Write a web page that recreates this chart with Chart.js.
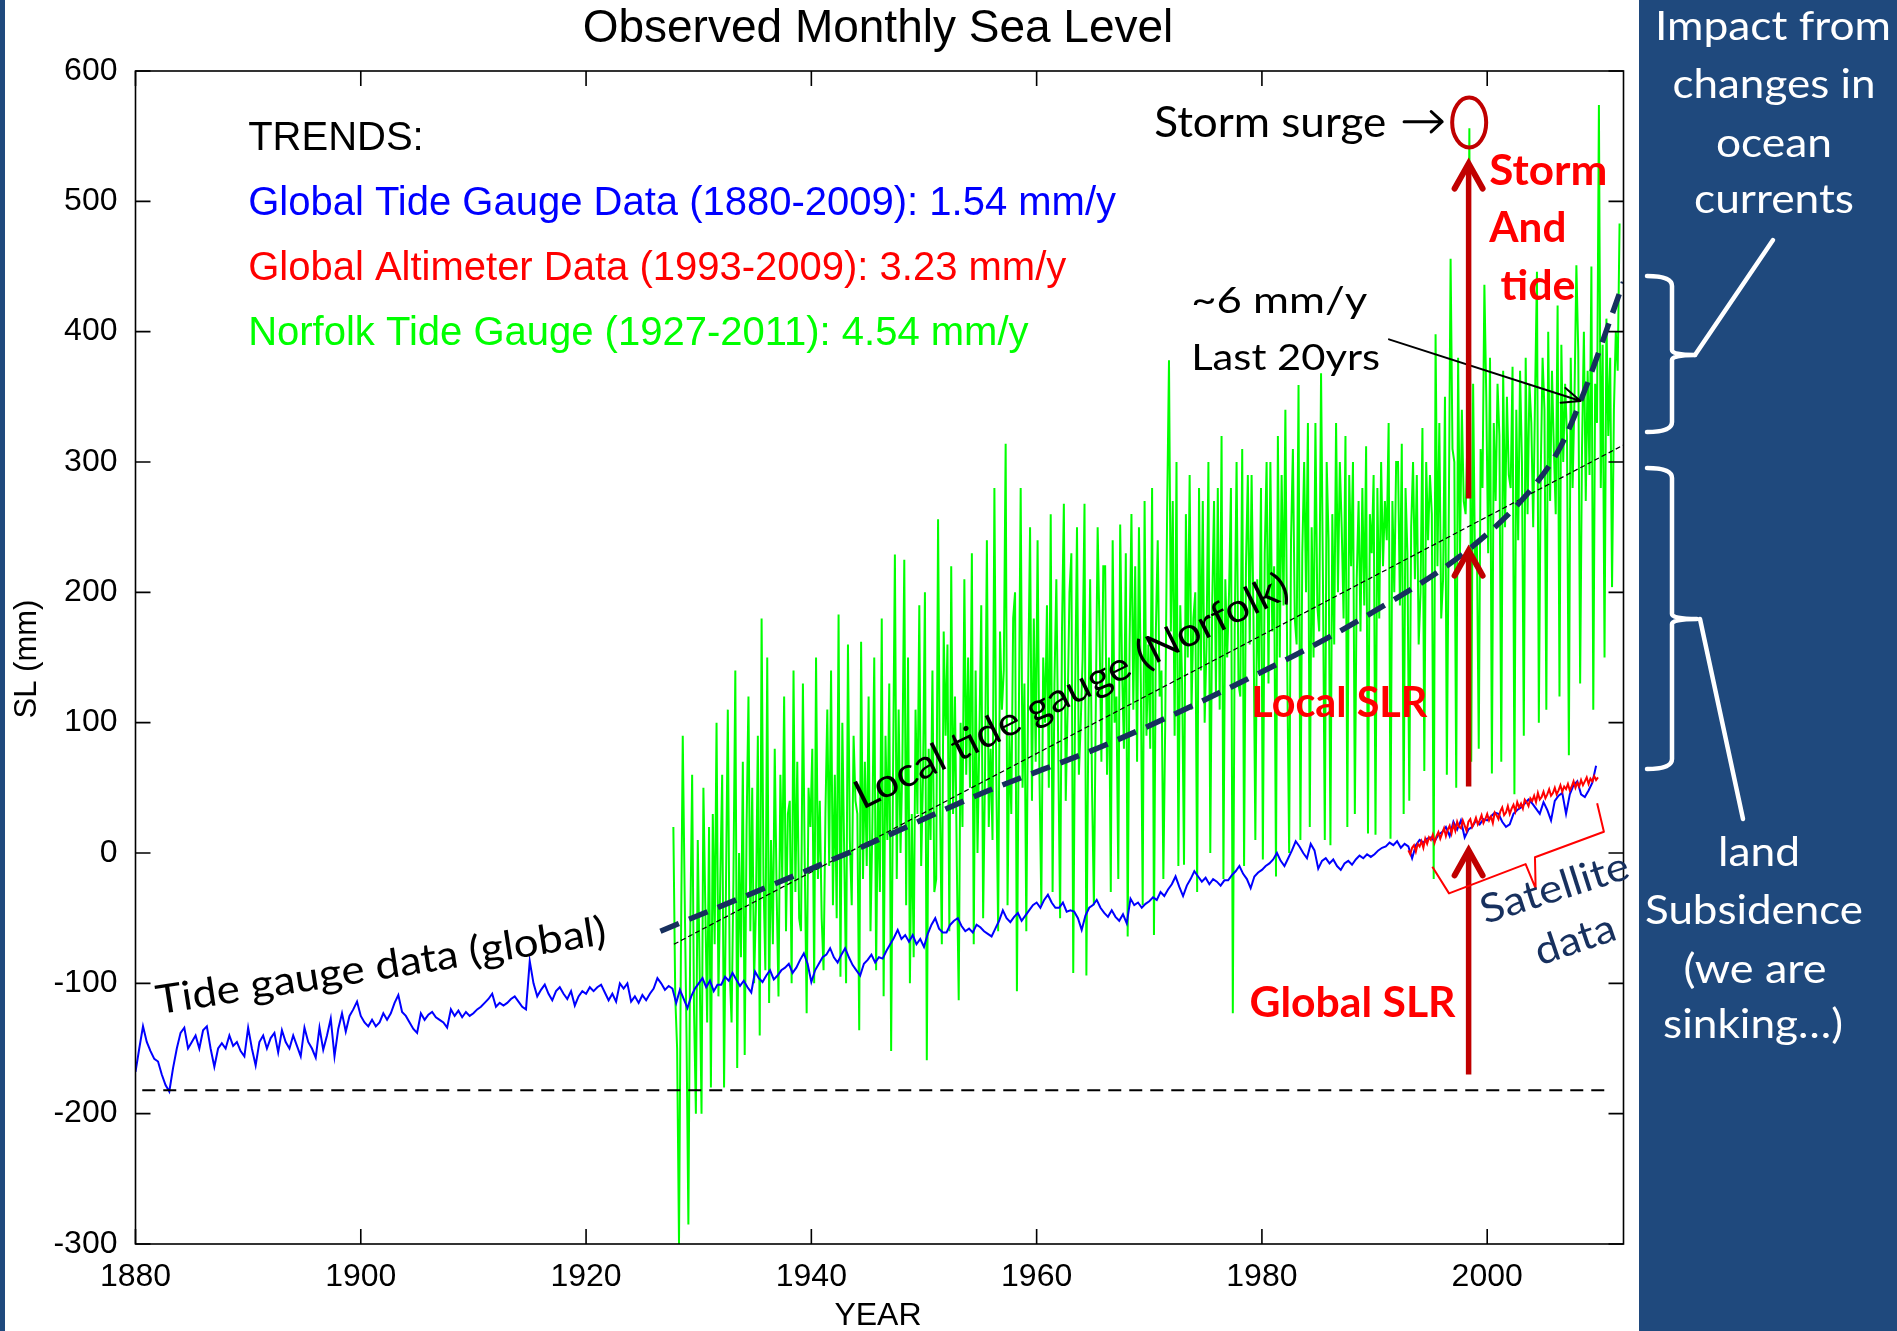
<!DOCTYPE html>
<html>
<head>
<meta charset="utf-8">
<title>Observed Monthly Sea Level</title>
<script src="https://cdn.jsdelivr.net/npm/chart.js@4.4.1/dist/chart.umd.min.js"></script>
<style>
  html, body { margin: 0; padding: 0; background: #ffffff; }
  canvas { display: block; }
</style>
</head>
<body>
<canvas id="seaLevelChart" width="1897" height="1331"></canvas>
<script>
const xTicks = [1880, 1900, 1920, 1940, 1960, 1980, 2000];
const yTicks = [-300, -200, -100, 0, 100, 200, 300, 400, 500, 600];

// global tide gauge, 3 samples a year from 1880
const globalTideStart = 1880;
const globalTidePerYear = 3;
const globalTideValues = [
  -168, -150, -133, -145, -152, -158, -160, -170, -178, -183, -165, -150, -138, -134, -150,
  -145, -140, -150, -136, -133, -150, -164, -150, -146, -150, -140, -148, -145, -152, -156,
  -134, -150, -163, -145, -140, -150, -142, -138, -153, -136, -145, -150, -140, -148, -156,
  -134, -145, -150, -157, -134, -151, -140, -127, -156, -135, -123, -137, -125, -120, -114,
  -125, -130, -133, -128, -133, -130, -123, -128, -123, -115, -109, -122, -125, -130, -135,
  -138, -123, -128, -124, -122, -126, -128, -130, -134, -120, -125, -121, -126, -122, -125,
  -123, -120, -118, -115, -112, -108, -118, -115, -117, -115, -112, -110, -114, -118, -120,
  -83, -100, -110, -105, -101, -108, -113, -106, -103, -108, -112, -106, -117, -110, -106,
  -108, -103, -106, -103, -101, -107, -113, -108, -114, -100, -104, -100, -114, -110, -115,
  -109, -113, -108, -104, -96, -100, -105, -102, -104, -115, -105, -112, -119, -110, -104,
  -100, -96, -103, -98, -106, -101, -101, -95, -98, -92, -97, -102, -98, -103, -107,
  -91, -96, -99, -94, -90, -97, -94, -90, -88, -85, -92, -88, -82, -77, -85,
  -99, -90, -85, -80, -78, -73, -80, -84, -78, -73, -80, -86, -90, -94, -85,
  -82, -78, -84, -80, -81, -75, -70, -65, -59, -66, -63, -68, -63, -70, -66,
  -72, -62, -55, -50, -58, -61, -61, -55, -52, -50, -56, -60, -58, -61, -55,
  -57, -60, -62, -64, -58, -52, -44, -50, -53, -49, -46, -52, -48, -44, -40,
  -38, -42, -36, -32, -38, -42, -42, -38, -45, -44, -45, -50, -59, -48, -42,
  -40, -36, -42, -46, -49, -44, -49, -52, -47, -54, -35, -40, -38, -42, -39,
  -37, -34, -36, -30, -33, -28, -24, -18, -26, -33, -25, -20, -14, -18, -22,
  -19, -24, -20, -22, -25, -21, -21, -17, -14, -10, -16, -20, -27, -18, -15,
  -13, -10, -8, -5, 0, -6, -10, -4, 2, 9, 5, 0, -4, 7, 2,
  -12, -6, -4, -8, -5, -10, -13, -8, -6, -9, -5, -2, -4, -1, -3,
  -1, 2, 4, 5, 8, 6, 9, 4, 7, 5, -4, 6, 10, 8, 11,
  12, 9, 14, 16, 20, 13, 24, 18, 25, 12, 18, 20, 25, 22, 26,
  25, 28, 31, 30, 24, 20, 22, 30, 33, 35, 38, 41, 38, 34, 30,
  39, 33, 25, 40, 44, 46, 30, 45, 52, 55, 45, 43, 48, 54, 67,
];

// satellite altimeter, 6 samples a year from 1993
const altimeterStart = 1993;
const altimeterPerYear = 6;
const altimeterValues = [
  2, -1, 4, 6, 1, 7, 5, 9, 4, 11, 7, 12,
  10, 14, 8, 13, 16, 11, 15, 19, 13, 18, 21, 15,
  22, 17, 24, 20, 19, 25, 21, 17, 24, 26, 20, 23,
  27, 22, 25, 29, 23, 26, 30, 25, 28, 23, 31, 29,
  26, 32, 35, 29, 31, 36, 30, 34, 37, 32, 39, 35,
  38, 34, 41, 39, 36, 42, 40, 44, 39, 46, 41, 43,
  47, 42, 45, 49, 44, 46, 50, 45, 48, 52, 47, 51,
  49, 53, 48, 51, 55, 50, 54, 51, 56, 52, 55, 58,
  53, 57, 55, 59, 56, 58,
];

// Norfolk tide gauge, 6 samples a year from late 1927
const norfolkStart = 1927.75;
const norfolkPerYear = 6;
const norfolkValues = [
  20, -110,
  -150, -300, -80, 90, -30, -140,
  -285, -60, 60, -120, -200, 10,
  -90, -200, 50, -40, -130, 20,
  -180, 30, -70, 100, -110, -20,
  60, -180, -30, 110, -90, -130,
  -20, 140, -165, 0, -80, 70,
  -155, 20, 120, -60, 50, -100,
  -40, 90, -140, 180, -20, -90,
  150, -115, 10, -70, 80, -30,
  -110, 60, -20, 120, -60, 30,
  40, -100, 140, -30, 70, -50,
  -60, 130, -10, -123, 50, 20,
  80, -100, 150, -20, 40, -50,
  -90, 30, 110, -10, 140, -40,
  60, -50, 183, -95, 100, 0,
  -100, 160, 10, -40, 90, 40,
  30, -136, 162, -20, 70, -10,
  120, -60, 20, 150, -90, 50,
  -30, 180, -110, 90, 10, 130,
  -152, 60, 229, -20, 110, 0,
  70, 225, -40, 150, -100, 30,
  -80, 110, 30, 190, -10, 60,
  200, -159, 80, 10, 140, -30,
  -20, 256, 40, -70, 170, 90,
  160, -60, 220, 30, 120, -10,
  -113, 100, 20, 210, 60, 150,
  50, 230, -70, 140, 0, 90,
  190, -50, 60, 240, 20, 80,
  10, 280, 60, -60, 170, 110,
  140, 314, -40, 90, 30, 180,
  200, -106, 100, 280, 50, 130,
  -60, 130, 250, 40, 180, 70,
  240, 60, -40, 150, 100, 190,
  50, 260, -30, 130, 210, 80,
  -50, 170, 268, 40, 110, 200,
  230, -92, 120, 250, 60, 100,
  150, 268, -94, 90, 210, 50,
  -40, 110, 250, 170, 70, 220,
  220, 60, 150, -30, 240, 100,
  120, -20, 252, 140, 80, 230,
  -64, 160, 260, 110, 220, 70,
  250, 130, -40, 270, 90, 160,
  80, 280, -63, 170, 240, 120,
  140, -20, 100, 260, 378, 170,
  270, 90, 300, -10, 190, 130,
  -9, 260, 150, 290, 110, 180,
  200, -30, 280, 140, 270, 100,
  160, 300, 0, 190, 270, 120,
  280, 110, 320, -20, 210, 150,
  200, 280, -123, 170, 300, 130,
  120, 310, -10, 220, 290, 160,
  290, 180, 10, 210, 140, 280,
  -5, 230, 300, 130, 300, 170,
  220, -18, 320, 150, 290, 190,
  340, 140, 0, 240, 310, 180,
  160, 359, 10, 230, 300, 200,
  330, 20, 250, 150, 330, 190,
  170, 368, 210, 10, 300, 240,
  6, 260, 160, 330, 200, 300,
  250, 180, 320, 20, 290, 220,
  300, 30, 210, 270, 170, 280,
  190, 312, 15, 260, 230, 290,
  14, 280, 180, 300, 220, 270,
  240, 330, 11, 270, 200, 300,
  300, 190, 314, 30, 280, 230,
  40, 250, 300, 210, 290, 160,
  200, 326, 63, 300, 240, 290,
  260, -20, 398, 220, 330, 180,
  210, 350, 60, 250, 456, 310,
  300, 50, 380, 230, 340, 270,
  260, 320, 556, 70, 360, 220,
  240, 80, 310, 280, 436, 350,
  230, 380, 61, 330, 270, 360,
  320, 70, 370, 250, 350, 290,
  280, 373, 45, 340, 240, 370,
  300, 90, 380, 260, 360, 330,
  250, 350, 446, 100, 290, 380,
  340, 110, 400, 270, 370, 310,
  260, 420, 120, 390, 300, 360,
  320, 75, 380, 280, 350, 451,
  385, 130, 310, 400, 270, 370,
  290, 450, 110, 360, 330, 574,
  280, 390, 150, 410, 320, 380,
  204, 340, 400, 370, 483,
];

const norfolkTrendYears = [1927.8, 2012.1];
const norfolkTrendValues = [-70, 313];

const localCurveYears = [1926.6, 1943.8, 1955.2, 1966.4, 1977.9, 1989.1, 1998.8, 2004, 2006.4, 2008.3, 2012.1];
const localCurveValues = [-60, 2, 46, 84, 130, 181, 236, 280, 310, 347, 438];

const referenceYears = [1880.6, 2010.8];
const referenceLevel = -182;

const trendLabels = [
  { text: "TRENDS:", color: "#000000", level: 539.4 },
  { text: "Global Tide Gauge Data (1880-2009): 1.54 mm/y", color: "#0000ff", level: 489.5 },
  { text: "Global Altimeter Data (1993-2009): 3.23 mm/y", color: "#ff0000", level: 439.6 },
  { text: "Norfolk Tide Gauge (1927-2011): 4.54 mm/y", color: "#00ff00", level: 389.8 },
];

// red arrows at the 1998 storm: [bottom, tip] in mm
const slrArrowYear = 1998.35;
const slrArrows = [[-170, 2], [51, 232], [272, 529]];

const axisFont = '"Liberation Sans", Arial, Helvetica, sans-serif';
const noteFont = 'Lato, "Open Sans", "Noto Sans", sans-serif';
const darkRed = "#c00000";
const navy = "#17305e";
const panelBlue = "#1f497d";

function toPoints(start, perYear, values) {
  return values.map((v, i) => ({ x: start + i / perYear, y: v }));
}

function pairPoints(xs, ys) {
  return xs.map((x, i) => ({ x, y: ys[i] }));
}

function writeText(ctx, text, x, y, o) {
  ctx.save();
  ctx.font = `${o.weight || "normal"} ${o.size}px ${o.family || noteFont}`;
  ctx.fillStyle = o.color || "#000000";
  ctx.textAlign = o.align || "left";
  ctx.textBaseline = o.baseline || "alphabetic";
  ctx.translate(x, y);
  if (o.angle) ctx.rotate((o.angle * Math.PI) / 180);
  if (o.width) {
    const w = ctx.measureText(text).width;
    ctx.scale(o.width / w, 1);
  }
  ctx.fillText(text, 0, 0);
  ctx.restore();
}

function lineArrow(ctx, x1, y1, x2, y2, head, spread, width, color) {
  const ang = Math.atan2(y2 - y1, x2 - x1);
  ctx.save();
  ctx.strokeStyle = color;
  ctx.lineWidth = width;
  ctx.lineCap = "round";
  ctx.lineJoin = "round";
  ctx.beginPath();
  ctx.moveTo(x1, y1);
  ctx.lineTo(x2, y2);
  ctx.moveTo(x2 - head * Math.cos(ang - spread), y2 - head * Math.sin(ang - spread));
  ctx.lineTo(x2, y2);
  ctx.lineTo(x2 - head * Math.cos(ang + spread), y2 - head * Math.sin(ang + spread));
  ctx.stroke();
  ctx.restore();
}

function upArrow(ctx, x, yBottom, yTip) {
  ctx.save();
  ctx.strokeStyle = darkRed;
  ctx.lineWidth = 5.5;
  ctx.beginPath();
  ctx.moveTo(x, yBottom);
  ctx.lineTo(x, yTip + 4);
  ctx.stroke();
  ctx.lineWidth = 6;
  ctx.lineCap = "round";
  ctx.lineJoin = "miter";
  ctx.beginPath();
  ctx.moveTo(x - 14, yTip + 25);
  ctx.lineTo(x, yTip);
  ctx.lineTo(x + 14, yTip + 25);
  ctx.stroke();
  ctx.restore();
}

function drawAxesBox(chart) {
  const { ctx, chartArea: a, scales: { x, y } } = chart;
  ctx.save();
  ctx.strokeStyle = "#000000";
  ctx.lineWidth = 1.6;
  ctx.strokeRect(a.left, a.top, a.right - a.left, a.bottom - a.top);
  ctx.beginPath();
  xTicks.forEach((t) => {
    const p = x.getPixelForValue(t);
    ctx.moveTo(p, a.bottom);
    ctx.lineTo(p, a.bottom - 15);
    ctx.moveTo(p, a.top);
    ctx.lineTo(p, a.top + 15);
  });
  yTicks.forEach((t) => {
    const p = y.getPixelForValue(t);
    ctx.moveTo(a.left, p);
    ctx.lineTo(a.left + 15, p);
    ctx.moveTo(a.right, p);
    ctx.lineTo(a.right - 15, p);
  });
  ctx.stroke();
  ctx.restore();
}

function drawPlotNotes(chart) {
  const { ctx, scales: { x, y } } = chart;
  const X = (v) => x.getPixelForValue(v);
  const Y = (v) => y.getPixelForValue(v);

  trendLabels.forEach((t) => {
    writeText(ctx, t.text, X(1890), Y(t.level), { size: 40, family: axisFont, color: t.color });
  });

  writeText(ctx, "Tide gauge data (global)", X(1901.8), Y(-87), {
    size: 40, width: 455, angle: -8.9, align: "center", baseline: "middle",
  });
  writeText(ctx, "Local tide gauge (Norfolk)", X(1963.1), Y(124), {
    size: 40, width: 480, angle: -26.5, align: "center", baseline: "middle",
  });
  writeText(ctx, "~6 mm/y", X(1973.72), Y(414.1), { size: 37, width: 176 });
  writeText(ctx, "Last 20yrs", X(1973.72), Y(370.6), { size: 37, width: 189 });
  writeText(ctx, "Storm surge", X(1970.44), Y(549.6), { size: 42, width: 232 });
  lineArrow(ctx, X(1992.62), Y(561.1), X(1996.0), Y(561.1), 15, 0.75, 3, "#000000");

  lineArrow(ctx, X(1991.28), Y(394.1), X(2008.29), Y(346.8), 20, 0.4, 2, "#000000");

  slrArrows.forEach(([from, to]) => upArrow(ctx, X(slrArrowYear), Y(from), Y(to)));

  ctx.save();
  ctx.strokeStyle = darkRed;
  ctx.lineWidth = 4;
  ctx.beginPath();
  ctx.ellipse(X(1998.4), Y(560.5), 17, 25, 0, 0, Math.PI * 2);
  ctx.stroke();
  ctx.restore();

  const bold = { size: 42, weight: "bold", color: "#ff0000" };
  writeText(ctx, "Storm", X(2000.19), Y(512.5), { ...bold, width: 118 });
  writeText(ctx, "And", X(2000.19), Y(469), { ...bold, width: 77 });
  writeText(ctx, "tide", X(2001.18), Y(424.3), { ...bold, width: 75 });
  writeText(ctx, "Local SLR", X(1979.06), Y(104.7), { ...bold, width: 176 });
  writeText(ctx, "Global SLR", X(1978.9), Y(-126.2), { ...bold, width: 206 });

  // satellite brace
  const brace = [[1995.13, -10.5], [1996.61, -31], [2003.41, -8.5], [2004.3, -27.1], [2004.24, -3.3], [2010.36, 16.3], [2009.76, 38.1]];
  ctx.save();
  ctx.strokeStyle = "#ff0000";
  ctx.lineWidth = 2;
  ctx.lineJoin = "round";
  ctx.beginPath();
  brace.forEach(([bx, by], i) => (i ? ctx.lineTo(X(bx), Y(by)) : ctx.moveTo(X(bx), Y(by))));
  ctx.stroke();
  ctx.restore();

  writeText(ctx, "Satellite", X(2005.99), Y(-27.2), {
    size: 40, width: 154, angle: -17.7, align: "center", baseline: "middle", color: navy,
  });
  writeText(ctx, "data", X(2007.81), Y(-66.8), {
    size: 40, width: 83, angle: -18.8, align: "center", baseline: "middle", color: navy,
  });
}

function panelBrace(ctx, xEnd, xSpine, xTip, yTop, yMid, yBot) {
  const r = 10;
  ctx.beginPath();
  ctx.moveTo(xEnd, yTop);
  ctx.quadraticCurveTo(xSpine, yTop, xSpine, yTop + r);
  ctx.lineTo(xSpine, yMid - r / 2);
  ctx.quadraticCurveTo(xSpine, yMid, xTip, yMid);
  ctx.moveTo(xTip, yMid);
  ctx.quadraticCurveTo(xSpine, yMid, xSpine, yMid + r / 2);
  ctx.lineTo(xSpine, yBot - r);
  ctx.quadraticCurveTo(xSpine, yBot, xEnd, yBot);
  ctx.stroke();
}

function drawFrame(chart) {
  const { ctx, width, height } = chart;
  ctx.save();
  ctx.fillStyle = panelBlue;
  ctx.fillRect(1639, 0, width - 1639, height);
  ctx.fillRect(0, 0, 5, height);
  ctx.restore();

  writeText(ctx, "Observed Monthly Sea Level", 878, 42, { size: 46, family: axisFont, align: "center" });
  writeText(ctx, "YEAR", 878, 1325, { size: 32, family: axisFont, align: "center" });
  writeText(ctx, "SL (mm)", 27, 659, { size: 31, family: axisFont, align: "center", baseline: "middle", angle: -90 });

  const white = { size: 40, color: "#ffffff", align: "center" };
  writeText(ctx, "Impact from", 1773, 40, { ...white, width: 236 });
  writeText(ctx, "changes in", 1774, 98, { ...white, width: 203 });
  writeText(ctx, "ocean", 1774, 157, { ...white, width: 116 });
  writeText(ctx, "currents", 1774, 213, { ...white, width: 160 });
  writeText(ctx, "land", 1759, 866, { ...white, width: 82 });
  writeText(ctx, "Subsidence", 1754, 924, { ...white, width: 218 });
  writeText(ctx, "(we are", 1755, 983, { ...white, width: 143 });
  writeText(ctx, "sinking\u2026)", 1753, 1038, { ...white, width: 180 });

  ctx.save();
  ctx.strokeStyle = "#ffffff";
  ctx.lineWidth = 4.5;
  ctx.lineCap = "round";
  ctx.lineJoin = "round";
  panelBrace(ctx, 1647, 1672, 1695, 276, 355, 432);
  panelBrace(ctx, 1647, 1672, 1697, 468, 619, 769);
  ctx.beginPath();
  ctx.moveTo(1695, 355);
  ctx.lineTo(1773, 240);
  ctx.moveTo(1700, 619);
  ctx.lineTo(1743, 819);
  ctx.stroke();
  ctx.restore();
}

const seaLevelDecor = {
  id: "seaLevelDecor",
  beforeDraw(chart) {
    const { ctx, width, height } = chart;
    ctx.save();
    ctx.fillStyle = "#ffffff";
    ctx.fillRect(0, 0, width, height);
    ctx.restore();
  },
  afterDatasetsDraw(chart) {
    drawAxesBox(chart);
    drawPlotNotes(chart);
  },
  afterDraw(chart) {
    drawFrame(chart);
  },
};

const tickFont = { family: axisFont, size: 32 };

new Chart(document.getElementById("seaLevelChart"), {
  type: "line",
  data: {
    datasets: [
      {
        label: "Norfolk tide gauge",
        data: toPoints(norfolkStart, norfolkPerYear, norfolkValues),
        borderColor: "#00ff00",
        borderWidth: 2,
        order: 10,
      },
      {
        label: "Global tide gauge",
        data: toPoints(globalTideStart, globalTidePerYear, globalTideValues),
        borderColor: "#0000ff",
        borderWidth: 2,
        order: 6,
      },
      {
        label: "Global altimeter",
        data: toPoints(altimeterStart, altimeterPerYear, altimeterValues),
        borderColor: "#ff0000",
        borderWidth: 2,
        order: 5,
      },
      {
        label: "Reference level",
        data: referenceYears.map((x) => ({ x, y: referenceLevel })),
        borderColor: "#000000",
        borderWidth: 2,
        borderDash: [13, 8],
        order: 4,
      },
      {
        label: "Norfolk trend",
        data: pairPoints(norfolkTrendYears, norfolkTrendValues),
        borderColor: "#000000",
        borderWidth: 1.2,
        borderDash: [5, 3],
        order: 3,
      },
      {
        label: "Local tide gauge curve",
        data: pairPoints(localCurveYears, localCurveValues),
        borderColor: navy,
        borderWidth: 5.5,
        borderDash: [20, 11],
        cubicInterpolationMode: "monotone",
        order: 2,
      },
    ],
  },
  options: {
    responsive: false,
    devicePixelRatio: 1,
    animation: false,
    parsing: false,
    layout: { padding: { top: 71, right: 273.5, bottom: 0, left: 0 } },
    elements: { point: { radius: 0 }, line: { tension: 0, fill: false } },
    plugins: {
      legend: { display: false },
      tooltip: { enabled: false },
      title: { display: false },
    },
    scales: {
      x: {
        type: "linear",
        min: 1880,
        max: 2012.1,
        grid: { display: false },
        border: { display: false },
        ticks: {
          font: tickFont,
          color: "#000000",
          padding: 6,
          maxRotation: 0,
          autoSkip: false,
          callback: (value) => String(value),
        },
        afterBuildTicks(scale) {
          scale.ticks = xTicks.map((v) => ({ value: v }));
        },
        afterFit(scale) {
          scale.height = 87;
        },
      },
      y: {
        type: "linear",
        min: -300,
        max: 600,
        grid: { display: false },
        border: { display: false },
        ticks: {
          font: tickFont,
          color: "#000000",
          padding: 10,
          autoSkip: false,
          callback: (value) => String(value),
        },
        afterBuildTicks(scale) {
          scale.ticks = yTicks.map((v) => ({ value: v }));
        },
        afterFit(scale) {
          scale.width = 135.5;
        },
      },
    },
  },
  plugins: [seaLevelDecor],
});
</script>
</body>
</html>
